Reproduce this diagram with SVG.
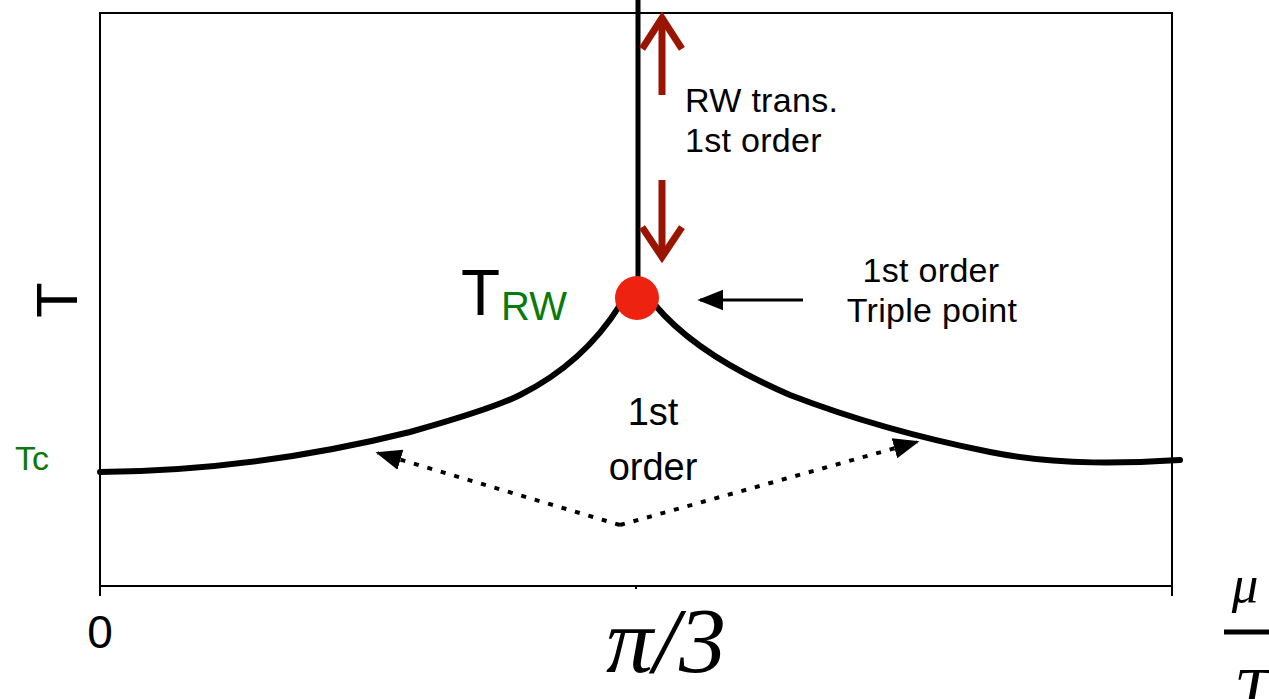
<svg xmlns="http://www.w3.org/2000/svg" width="1269" height="699" viewBox="0 0 1269 699">
<defs>
<style>
.s{font-family:"Liberation Sans",Arial,sans-serif;fill:#000}
.g{fill:#0a7a0a}
.m{font-family:"Liberation Serif","Times New Roman",serif;font-style:italic;fill:#000}
.curve{fill:none;stroke:#000;stroke-width:6;stroke-linecap:round;stroke-linejoin:round}
.red{fill:none;stroke:#9a1500;stroke-width:7}
</style>
<marker id="tri" viewBox="0 0 10 10" refX="9" refY="5" markerWidth="26" markerHeight="26" orient="auto" markerUnits="userSpaceOnUse">
<path d="M0,1 L10,5 L0,9 Z" fill="#000"/>
</marker>
</defs>
<rect width="1269" height="699" fill="#fff"/>
<g id="frame" fill="none" stroke="#000" stroke-width="2">
<rect x="100" y="13" width="1072" height="573"/>
<line x1="100" y1="586" x2="100" y2="596"/>
<line x1="1172" y1="586" x2="1172" y2="596"/>
<line x1="636" y1="586" x2="636" y2="589"/>
</g>
<g id="connectors">
<line x1="638" y1="0" x2="638" y2="298" stroke="#000" stroke-width="5"/>
<path class="curve" d="M100,472 C220,471 330,452 410,432 C460,418 500,405 520,395 C560,375 595,345 620,305"/>
<path class="curve" d="M655,305 C680,335 720,365 790,395 C860,422 930,440 990,452 C1060,466 1130,463 1180,460"/>
<polyline points="620,525 378,453" fill="none" stroke="#000" stroke-width="4" stroke-dasharray="5,9" marker-end="url(#tri)"/>
<polyline points="620,525 917,442" fill="none" stroke="#000" stroke-width="4" stroke-dasharray="5,9" marker-end="url(#tri)"/>
<line x1="662" y1="95" x2="662" y2="20" class="red"/>
<polyline points="644,46 662,18 680,46" class="red" stroke-linecap="square"/>
<line x1="662" y1="180" x2="662" y2="255" class="red"/>
<polyline points="644,230 662,257 680,230" class="red" stroke-linecap="square"/>
<line x1="803" y1="300" x2="700" y2="300" stroke="#000" stroke-width="3" marker-end="url(#tri)"/>
</g>
<g id="triple-point">
<circle cx="637" cy="298" r="22" fill="#ee2211"/>
</g>
<g id="labels">
<text class="s" x="685" y="112" font-size="34" letter-spacing="0.3">RW trans.</text>
<text class="s" x="685" y="152" font-size="34" letter-spacing="0.3">1st order</text>
<text class="s" x="461" y="315" font-size="64">T</text>
<text class="s g" x="501" y="320" font-size="40">RW</text>
<text class="s" x="931" y="282" font-size="34" letter-spacing="0.3" text-anchor="middle">1st order</text>
<text class="s" x="932" y="322" font-size="34" letter-spacing="0.3" text-anchor="middle">Triple point</text>
<text class="s" x="653" y="425" font-size="38" text-anchor="middle">1st</text>
<text class="s" x="653" y="480" font-size="38" text-anchor="middle">order</text>
<text class="s" x="77" y="300" font-size="58" text-anchor="middle" transform="rotate(-90 77 300)">T</text>
<text class="s g" x="15" y="470" font-size="34">Tc</text>
<text class="s" x="100" y="648" font-size="46" text-anchor="middle">0</text>
<text class="m" x="666" y="672" font-size="94" text-anchor="middle">π/3</text>
<text class="m" x="1245" y="602" font-size="53" text-anchor="middle">μ</text>
<line x1="1224" y1="632" x2="1269" y2="632" stroke="#000" stroke-width="5"/>
<text class="m" x="1252" y="712" font-size="64" text-anchor="middle">T</text>
</g>
</svg>
